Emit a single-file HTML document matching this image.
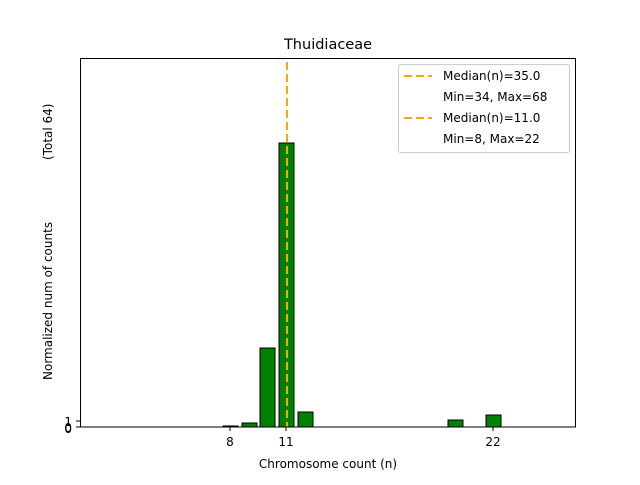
<!DOCTYPE html><html><head><style>body{margin:0;background:#fff}svg{font-family:"DejaVu Sans","Liberation Sans",sans-serif}</style></head><body>
<svg width="640" height="480" viewBox="0 0 640 480">
<rect width="640" height="480" fill="#fff"/>
<text x="328" y="49" font-size="14.5" text-anchor="middle">Thuidiaceae</text>
<g fill="#008000" stroke="#000" stroke-width="1">
<rect x="223" y="426" width="15" height="1"/>
<rect x="242" y="423" width="15" height="4"/>
<rect x="260" y="348" width="15" height="79"/>
<rect x="279" y="143" width="15" height="284"/>
<rect x="298" y="412" width="15" height="15"/>
<rect x="448" y="420" width="15" height="7"/>
<rect x="486" y="415" width="15" height="12"/>
</g>
<line x1="287" y1="62" x2="287" y2="427" stroke="#FFA500" stroke-width="2" stroke-dasharray="8,4"/>
<rect x="80.5" y="58.5" width="495" height="368.5" fill="none" stroke="#000"/>
<g stroke="#000"><line x1="76" y1="427" x2="80" y2="427"/><line x1="76" y1="421" x2="80" y2="421"/>
<line x1="230" y1="427" x2="230" y2="431"/><line x1="286" y1="427" x2="286" y2="431"/><line x1="493" y1="427" x2="493" y2="431"/></g>
<g font-size="12" text-anchor="end"><text x="72" y="432">0</text><text x="72" y="426">1</text><text x="72" y="433">0</text></g>
<g font-size="12" text-anchor="middle"><text x="230" y="446">8</text><text x="286" y="446">11</text><text x="493" y="446">22</text>
<text x="328" y="468">Chromosome count (n)</text></g>
<text transform="translate(52,380) rotate(-90)" font-size="12">Normalized num of counts</text>
<text transform="translate(52,160) rotate(-90)" font-size="12">(Total 64)</text>
<rect x="398.5" y="64.5" width="171" height="88" rx="2" fill="#fff" stroke="#ccc"/>
<g stroke="#FFA500" stroke-width="2" stroke-dasharray="8,4"><line x1="404" y1="76" x2="432" y2="76"/><line x1="404" y1="118" x2="432" y2="118"/></g>
<g font-size="12"><text x="443" y="80">Median(n)=35.0</text><text x="443" y="101">Min=34, Max=68</text><text x="443" y="122">Median(n)=11.0</text><text x="443" y="143">Min=8, Max=22</text></g>
</svg></body></html>
